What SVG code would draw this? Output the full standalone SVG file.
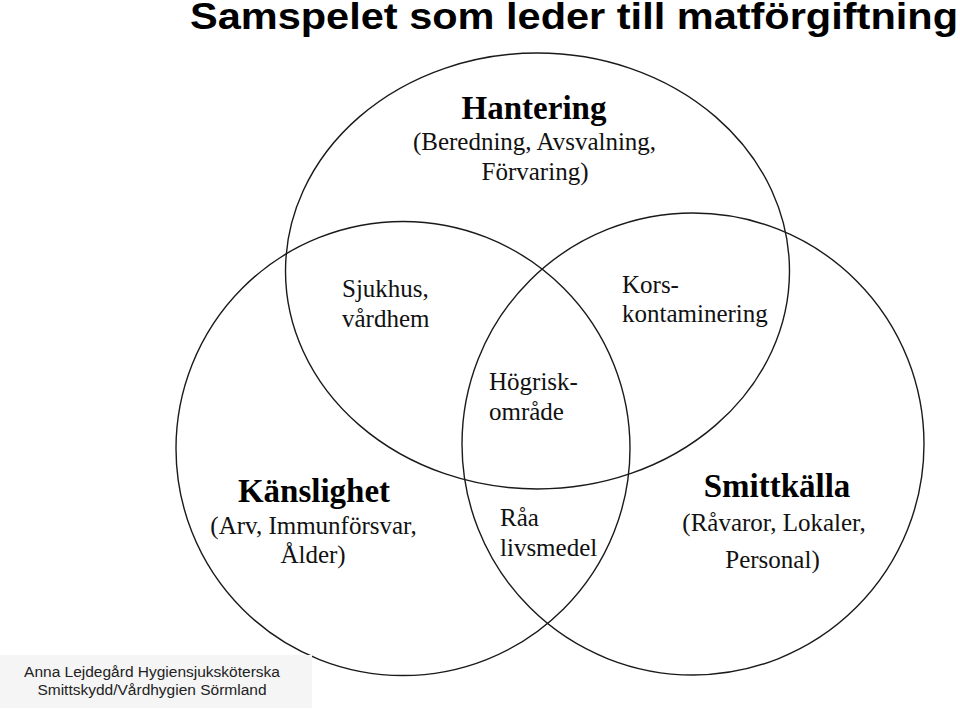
<svg xmlns="http://www.w3.org/2000/svg" width="960" height="710" viewBox="0 0 960 710">
<style>
.c{fill:none;stroke:#1a1a1a;stroke-width:1.4}
.t{font-family:"Liberation Serif","Times New Roman",serif;font-size:25px;fill:#111}
.b{font-family:"Liberation Serif","Times New Roman",serif;font-size:33px;font-weight:bold;fill:#000}
.m{text-anchor:middle}
.f{font-family:"Liberation Sans",Arial,sans-serif;font-size:15.5px;fill:#222;text-anchor:middle}
</style>
<rect width="960" height="710" fill="#fff"/>
<text x="190" y="29" font-family="'Liberation Sans',Arial,sans-serif" font-weight="bold" font-size="36" textLength="768" lengthAdjust="spacingAndGlyphs" fill="#000">Samspelet som leder till matförgiftning</text>
<g id="connectors">
<ellipse id="hantering-circle" class="c" cx="537.5" cy="271" rx="252" ry="218"/>
<circle id="kanslighet-circle" class="c" cx="403" cy="448.5" r="227"/>
<circle id="smittkalla-circle" class="c" cx="693" cy="444" r="231"/>
</g>
<g id="hantering">
<text class="b m" x="534" y="119">Hantering</text>
<text class="t m" x="534.5" y="150">(Beredning, Avsvalning,</text>
<text class="t m" x="535" y="180">Förvaring)</text>
</g>
<g id="sjukhus">
<text class="t" x="342" y="297">Sjukhus,</text>
<text class="t" x="342" y="327">vårdhem</text>
</g>
<g id="kors">
<text class="t" x="622" y="293">Kors-</text>
<text class="t" x="622" y="322">kontaminering</text>
</g>
<g id="hogrisk">
<text class="t" x="489" y="390">Högrisk-</text>
<text class="t" x="489" y="420">område</text>
</g>
<g id="raa">
<text class="t" x="500" y="526">Råa</text>
<text class="t" x="500" y="556">livsmedel</text>
</g>
<g id="kanslighet">
<text class="b m" x="314" y="502">Känslighet</text>
<text class="t m" x="313.5" y="534">(Arv, Immunförsvar,</text>
<text class="t m" x="313" y="563">Ålder)</text>
</g>
<g id="smittkalla">
<text class="b m" x="777" y="497">Smittkälla</text>
<text class="t m" x="774" y="531">(Råvaror, Lokaler,</text>
<text class="t m" x="772.5" y="568">Personal)</text>
</g>
<g id="footer">
<rect x="0" y="655" width="312" height="53" fill="#f5f5f5"/>
<text class="f" x="152" y="677">Anna Lejdegård Hygiensjuksköterska</text>
<text class="f" x="152" y="695">Smittskydd/Vårdhygien Sörmland</text>
</g>
</svg>
